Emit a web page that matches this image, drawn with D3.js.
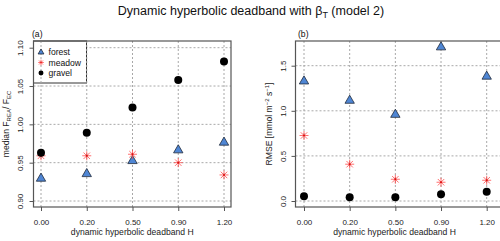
<!DOCTYPE html>
<html>
<head>
<meta charset="utf-8">
<script src="https://cdn.jsdelivr.net/npm/d3@7"></script>
<style>
  body { margin: 0; background: #fff; }
  svg { display: block; font-family: "Liberation Sans", Arial, sans-serif; }
</style>
</head>
<body>
<svg id="chart" width="500" height="241"></svg>
<script>
// deadband categories (x axis)
const deadbands = ['0.00', '0.20', '0.50', '0.90', '1.20'];

// panel (a): median F_REA / F_EC
const medianForest = [0.930, 0.936, 0.953, 0.967, 0.977];
const medianMeadow = [0.959, 0.959, 0.961, 0.950, 0.934];
const medianGravel = [0.963, 0.989, 1.022, 1.058, 1.082];
const medianTicks = [0.90, 0.95, 1.00, 1.05, 1.10];

// panel (b): RMSE
const rmseForest = [1.333, 1.119, 0.963, 1.711, 1.386];
const rmseMeadow = [0.726, 0.408, 0.241, 0.208, 0.230];
const rmseGravel = [0.052, 0.041, 0.041, 0.074, 0.103];
const rmseTicks = [0.0, 0.5, 1.0, 1.5];

const siteNames = ['forest', 'meadow', 'gravel'];

const svg = d3.select('#chart');
const gridColor = '#a8a8a8';
const boxColor = '#555';

// title
const title = svg.append('text')
    .attr('x', 251)
    .attr('y', 15)
    .attr('text-anchor', 'middle')
    .attr('font-size', 12.5)
    .attr('fill', '#111');
title.append('tspan').text('Dynamic hyperbolic deadband with \u03B2');
title.append('tspan').attr('font-size', 9).attr('dy', 3).text('T');
title.append('tspan').attr('dy', -3).text(' (model 2)');

function drawMarker(g, kind, x, y, s = 1) {
    if (kind === 'forest') {
        g.append('path')
            .attr('d', d3.symbol(d3.symbolTriangle, 38 * s * s)())
            .attr('transform', `translate(${x},${y + 0.5 * s})`)
            .attr('fill', '#4f86d4')
            .attr('stroke', '#1f2a3a')
            .attr('stroke-width', 0.8);
    } else if (kind === 'meadow') {
        const r = 4.5 * s, d = r * 0.72;
        const star = g.append('g')
            .attr('transform', `translate(${x},${y})`)
            .attr('stroke', '#ff4040')
            .attr('stroke-opacity', 0.75)
            .attr('stroke-width', 1);
        [[-r, 0, r, 0], [0, -r, 0, r], [-d, -d, d, d], [-d, d, d, -d]].forEach(l => {
            star.append('line')
                .attr('x1', l[0]).attr('y1', l[1])
                .attr('x2', l[2]).attr('y2', l[3]);
        });
        star.append('circle').attr('r', 1 * s).attr('fill', '#d81010').attr('stroke', 'none');
    } else {
        g.append('circle')
            .attr('cx', x)
            .attr('cy', y)
            .attr('r', 4 * s)
            .attr('fill', '#000');
    }
}

function drawPanel(opts) {
    const g = svg.append('g');
    const x = d3.scaleLinear().domain([0, deadbands.length - 1]).range(opts.xRange);
    const y = d3.scaleLinear().domain(opts.yDomain).range(opts.yRange);
    const [left, right, top, bottom] = opts.box;

    // horizontal grid
    g.selectAll('.hgrid')
        .data(opts.yTicks)
        .join('line')
        .attr('x1', left).attr('x2', right)
        .attr('y1', d => y(d)).attr('y2', d => y(d))
        .attr('stroke', gridColor)
        .attr('stroke-width', 1)
        .attr('stroke-dasharray', '2,2');

    // legend (panel a only)
    if (opts.legend) {
        g.append('rect')
            .attr('x', left).attr('y', top)
            .attr('width', 53).attr('height', 42)
            .attr('fill', '#fff')
            .attr('stroke', '#333')
            .attr('stroke-width', 1);
    }

    // vertical grid
    g.selectAll('.vgrid')
        .data(deadbands)
        .join('line')
        .attr('x1', (d, i) => x(i)).attr('x2', (d, i) => x(i))
        .attr('y1', top).attr('y2', bottom)
        .attr('stroke', gridColor)
        .attr('stroke-width', 1)
        .attr('stroke-dasharray', '2,2');

    if (opts.legend) {
        siteNames.forEach((name, i) => {
            const ly = top + 11 + i * 10.5;
            drawMarker(g, name, left + 7.5, ly, 0.62);
            g.append('text')
                .attr('x', left + 15)
                .attr('y', ly + 3)
                .attr('font-size', 8.6)
                .attr('fill', '#111')
                .text(name);
        });
    }

    // box
    g.append('rect')
        .attr('x', left).attr('y', top)
        .attr('width', right - left).attr('height', bottom - top)
        .attr('fill', 'none')
        .attr('stroke', boxColor)
        .attr('stroke-width', 1.2);

    // x axis
    const xAxis = d3.axisBottom(x)
        .tickValues(d3.range(deadbands.length))
        .tickFormat(i => deadbands[i])
        .tickSize(4)
        .tickPadding(8);
    const xg = g.append('g')
        .attr('transform', `translate(0,${bottom})`)
        .call(xAxis);
    xg.select('.domain').remove();
    xg.selectAll('line').attr('stroke', boxColor);
    xg.selectAll('text')
        .attr('font-size', 8)
        .attr('font-family', '"Liberation Sans", Arial, sans-serif')
        .attr('fill', '#222');

    g.append('text')
        .attr('x', (left + opts.xRange[1] + 7) / 2)
        .attr('y', 234.5)
        .attr('text-anchor', 'middle')
        .attr('font-size', 8.6)
        .attr('fill', '#222')
        .text('dynamic hyperbolic deadband H');

    // y axis
    const yAxis = d3.axisLeft(y)
        .tickValues(opts.yTicks)
        .tickFormat(opts.yFormat)
        .tickSize(4);
    const yg = g.append('g')
        .attr('transform', `translate(${left},0)`)
        .call(yAxis);
    yg.select('.domain').remove();
    yg.selectAll('line').attr('stroke', boxColor);
    yg.selectAll('.tick text')
        .attr('font-size', 8)
        .attr('font-family', '"Liberation Sans", Arial, sans-serif')
        .attr('fill', '#222')
        .attr('text-anchor', 'middle')
        .attr('x', 0)
        .attr('y', 0)
        .attr('dy', '0.35em')
        .attr('transform', `translate(${opts.tickX - left},0) rotate(-90)`);

    // y label
    const yl = g.append('text')
        .attr('transform', `translate(${opts.labelX},${(top + bottom) / 2}) rotate(-90)`)
        .attr('text-anchor', 'middle')
        .attr('font-size', 8.6)
        .attr('fill', '#222');
    opts.yLabel(yl);

    // panel letter
    g.append('text')
        .attr('x', opts.letterX)
        .attr('y', top - 4)
        .attr('font-size', 8.6)
        .attr('fill', '#111')
        .text(opts.letter);

    // points
    const series = [['forest', opts.data[0]], ['meadow', opts.data[1]], ['gravel', opts.data[2]]];
    series.forEach(([name, values]) => {
        values.forEach((v, i) => drawMarker(g, name, x(i), y(v)));
    });
}

drawPanel({
    xRange: [41, 224],
    yDomain: [0.90, 1.10],
    yRange: [201, 47.7],
    box: [33.5, 231, 41, 207],
    yTicks: medianTicks,
    yFormat: d3.format('.2f'),
    tickX: 20,
    labelX: 9,
    letter: '(a)',
    letterX: 32,
    legend: true,
    data: [medianForest, medianMeadow, medianGravel],
    yLabel: t => {
        t.append('tspan').text('median F');
        t.append('tspan').attr('font-size', 6).attr('dy', 2).text('REA');
        t.append('tspan').attr('dy', -2).text('/ F');
        t.append('tspan').attr('font-size', 6).attr('dy', 2).text('EC');
    }
});

drawPanel({
    xRange: [304, 486.7],
    yDomain: [0, 1.5],
    yRange: [201, 65.7],
    box: [295.5, 501, 41, 207],
    yTicks: rmseTicks,
    yFormat: d3.format('.1f'),
    tickX: 283,
    labelX: 272,
    letter: '(b)',
    letterX: 298,
    legend: false,
    data: [rmseForest, rmseMeadow, rmseGravel],
    yLabel: t => {
        t.append('tspan').text('RMSE [mmol m');
        t.append('tspan').attr('font-size', 6).attr('dy', -3).text('\u22122');
        t.append('tspan').attr('dy', 3).text(' s');
        t.append('tspan').attr('font-size', 6).attr('dy', -3).text('\u22121');
        t.append('tspan').attr('dy', 3).text(']');
    }
});
</script>
</body>
</html>
